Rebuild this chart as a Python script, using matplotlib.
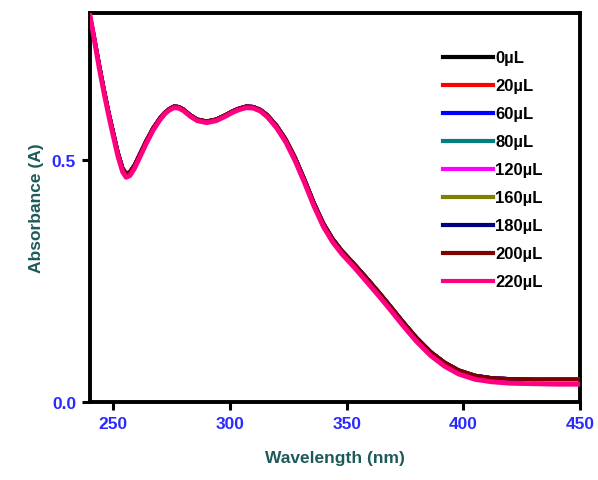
import matplotlib
matplotlib.use("Agg")
import matplotlib.pyplot as plt

# wavelength (nm) and absorbance
wavelength = [240, 242, 244, 246, 248, 250, 252, 254, 255.5, 257, 259, 261,
              264, 267, 270, 272, 274, 276, 278, 280, 283, 286, 290, 294,
              298, 301, 304, 307, 310, 313, 316, 320, 324, 328, 332, 336,
              340, 344, 348, 353, 358, 363, 368, 374, 380, 386, 392, 398,
              405, 412, 420, 430, 440, 450]
absorb = [0.80, 0.75, 0.697, 0.647, 0.60, 0.558, 0.516, 0.484, 0.473, 0.476,
          0.49, 0.51, 0.54, 0.567, 0.588, 0.599, 0.607, 0.612, 0.611, 0.606,
          0.594, 0.585, 0.581, 0.585, 0.594, 0.602, 0.608, 0.612, 0.611,
          0.605, 0.594, 0.572, 0.543, 0.505, 0.46, 0.412, 0.37, 0.338,
          0.313, 0.287, 0.26, 0.232, 0.203, 0.167, 0.133, 0.104, 0.082,
          0.066, 0.055, 0.05, 0.048, 0.047, 0.047, 0.047]
# the 220 uL curve sits a little lower
absorb_220 = [0.80, 0.745, 0.69, 0.64, 0.593, 0.55, 0.508, 0.476, 0.465,
              0.468, 0.483, 0.503, 0.534, 0.562, 0.584, 0.596, 0.604, 0.609,
              0.608, 0.603, 0.591, 0.582, 0.578, 0.582, 0.591, 0.599, 0.605,
              0.609, 0.608, 0.602, 0.59, 0.567, 0.537, 0.498, 0.453, 0.405,
              0.363, 0.331, 0.306, 0.28, 0.252, 0.224, 0.195, 0.159, 0.125,
              0.096, 0.074, 0.058, 0.047, 0.042, 0.039, 0.038, 0.037, 0.037]

labels = ["0µL", "20µL", "60µL", "80µL", "120µL", "160µL", "180µL", "200µL", "220µL"]
colors = ["#000000", "#ff0000", "#0000ff", "#008080", "#ff00ff", "#808000",
          "#000080", "#800000", "#ff0080"]

fig = plt.figure(figsize=(5.98, 4.81), dpi=100)
ax = fig.add_axes([0.1505, 0.162, 0.8195, 0.809])

for i, (lab, col) in enumerate(zip(labels, colors)):
    y = absorb_220 if lab == "220µL" else absorb
    lw = 3.5 if lab == "220µL" else 2.5
    ax.plot(wavelength, y, color=col, lw=lw, label=lab, zorder=2 + i)

ax.set_xlim(240, 450)
ax.set_ylim(0, 0.805)
ax.set_xticks([250, 300, 350, 400, 450])
ax.set_yticks([0.0, 0.5])
ax.set_yticklabels(["0.0", "0.5"])

for s in ax.spines.values():
    s.set_linewidth(2.8)
ax.tick_params(direction="out", length=6, width=2.2, labelsize=12.5,
               labelcolor="#2a2aff", pad=4)
for t in ax.get_xticklabels() + ax.get_yticklabels():
    t.set_fontweight("bold")
    t.set_family("Liberation Sans")

ax.set_xlabel("Wavelength (nm)", fontsize=12.5, fontweight="bold",
              color="#1f5a5a", family="Liberation Sans", labelpad=14)
ax.set_ylabel("Absorbance (A)", fontsize=12.5, fontweight="bold",
              color="#1f5a5a", family="Liberation Sans", labelpad=6)

leg = ax.legend(loc="upper left", bbox_to_anchor=(0.703, 0.925), frameon=False,
                handlelength=3.0, handletextpad=0.15, labelspacing=0.78,
                borderpad=0, prop={"family": "Liberation Sans", "weight": "bold", "size": 12})
for h in leg.get_lines():
    h.set_linewidth(3)

fig.savefig("out.png", dpi=100)
